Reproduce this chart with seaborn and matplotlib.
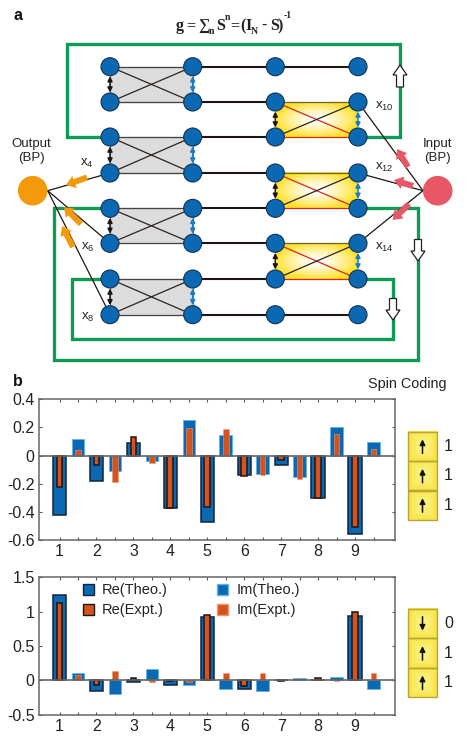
import numpy as np
import pandas as pd
import matplotlib
matplotlib.use("Agg")
import matplotlib.pyplot as plt
import seaborn as sns
from matplotlib.patches import Rectangle, Circle, FancyArrow, Polygon, Patch

sns.set_theme(style="white")
plt.rcParams["font.family"] = ["Liberation Sans", "DejaVu Sans"]
plt.rcParams["mathtext.fontset"] = "custom"
plt.rcParams["mathtext.rm"] = "Liberation Sans"
plt.rcParams["mathtext.default"] = "regular"

# bar values
slot_labels = ["1", "2", "3", "4", "5", "6", "7", "8", "9"]
top_re_theo = [-0.42, -0.18, 0.09, -0.37, -0.47, -0.135, -0.065, -0.305, -0.56]
top_re_expt = [-0.22, -0.07, 0.135, -0.375, -0.365, -0.145, -0.03, -0.30, -0.51]
top_im_theo = [0.115, -0.11, -0.04, 0.25, 0.145, -0.13, -0.15, 0.20, 0.10]
top_im_expt = [0.04, -0.19, -0.055, 0.195, 0.19, -0.135, -0.165, 0.15, 0.045]
bot_re_theo = [1.24, -0.15, -0.02, -0.07, 0.92, -0.13, 0.01, 0.01, 0.94]
bot_re_expt = [1.13, -0.07, 0.03, -0.01, 0.95, -0.08, -0.015, 0.03, 0.99]
bot_im_theo = [0.10, -0.20, 0.165, -0.07, -0.12, -0.15, 0.04, 0.055, -0.13]
bot_im_expt = [0.08, 0.14, -0.03, -0.03, 0.10, 0.10, 0.01, -0.01, 0.11]

# schematic layout, pixels
col_x = [110, 192.7, 275.3, 358]
row_y = [66.7, 102, 137, 173, 208.3, 243.3, 279, 314.7]
gray_boxes = [(0, 1), (2, 3), (4, 5), (6, 7)]
yellow_boxes = [(1, 2), (3, 4), (5, 6)]
spin_top = ["1", "1", "1"]
spin_bot = ["0", "1", "1"]

BLUE = "#0b69b4"
ORANGE = "#d5531f"
GREEN = "#0f9a55"
W, H = 467, 738


def px_axes(left, right, top, bottom):
    return fig.add_axes([left / W, 1 - bottom / H, (right - left) / W, (bottom - top) / H])


def draw_bars(ax, re_theo, re_expt, im_theo, im_expt):
    slots = list(range(18))
    def one(vals, offset, width, edge, color, lw):
        df = pd.DataFrame({"slot": [offset + 2 * i for i in range(9)], "val": vals})
        sns.barplot(data=df, x="slot", y="val", order=slots, width=width, color=color,
                    saturation=1, edgecolor=edge, linewidth=lw, errorbar=None, ax=ax)
    one(re_theo, 0, 0.72, "#12233a", BLUE, 1.1)
    one(im_theo, 1, 0.68, "#5fb4e6", BLUE, 0.6)
    one(re_expt, 0, 0.31, "#1c1512", ORANGE, 1.1)
    one(im_expt, 1, 0.30, "#ee9a70", ORANGE, 0.4)
    ax.axhline(0, color="#666666", lw=1.2)
    ax.set_xlim(-1.126, 18.16)
    ax.set_xlabel("")
    ax.set_ylabel("")
    ax.set_xticks(slots)
    ax.set_xticklabels([slot_labels[i // 2] if i % 2 == 0 else "" for i in slots])
    ax.tick_params(axis="both", which="both", direction="in", length=2.5, width=0.8, color="#555555",
                   top=True, right=True, bottom=True, left=True, labelsize=11.5, labelcolor="#222222", pad=3)
    for s in ax.spines.values():
        s.set_color("#666666")
        s.set_linewidth(1.1)


fig = plt.figure(figsize=(W / 100, H / 100), dpi=100)

ax1 = px_axes(38.7, 395, 399.3, 540)
draw_bars(ax1, top_re_theo, top_re_expt, top_im_theo, top_im_expt)
ax1.set_ylim(-0.6, 0.4)
ax1.set_yticks([-0.6, -0.4, -0.2, 0, 0.2, 0.4])
ax1.set_yticklabels(["-0.6", "-0.4", "-0.2", "0", "0.2", "0.4"])

ax2 = px_axes(38.7, 395, 577.3, 714.7)
draw_bars(ax2, bot_re_theo, bot_re_expt, bot_im_theo, bot_im_expt)
ax2.set_ylim(-0.5, 1.5)
ax2.set_yticks([-0.5, 0, 0.5, 1, 1.5])
ax2.set_yticklabels(["-0.5", "0", "0.5", "1", "1.5"])
handles = [Patch(facecolor=BLUE, edgecolor="#12233a", label="Re(Theo.)"),
           Patch(facecolor=ORANGE, edgecolor="#1c1512", label="Re(Expt.)"),
           Patch(facecolor=BLUE, edgecolor="#5fb4e6", label="Im(Theo.)"),
           Patch(facecolor=ORANGE, edgecolor="#ee9a70", label="Im(Expt.)")]
ax2.legend(handles=handles, ncol=2, frameon=False, fontsize=10.5, loc="upper left",
           bbox_to_anchor=(0.104, 1.01), handlelength=0.75, handleheight=0.8, handletextpad=0.55,
           columnspacing=3.4, labelspacing=0.42, borderaxespad=0.1, labelcolor="#222222")

# overlay in pixel coordinates for the schematic and spin boxes
ov = fig.add_axes([0, 0, 1, 1], zorder=5)
ov.patch.set_alpha(0)
ov.axis("off")

# yellow gradient
yy, xx = np.mgrid[-1:1:60j, -1:1:90j]
rad = np.clip(np.sqrt(xx ** 2 + yy ** 2) / 1.05, 0, 1) ** 1.5
grad = np.ones((60, 90, 3))
grad[..., 2] = 1 - 0.85 * rad
grad[..., 1] = 1 - 0.12 * rad


def yellow_fill(x0, x1, y0, y1):
    ov.imshow(grad, extent=(x0, x1, y1, y0), aspect="auto", zorder=1, interpolation="bilinear")


# green frames
frames = [([110, 66.5, 66.5, 400, 400, 358], [137, 137, 44, 44, 137, 137]),
          ([110, 54, 54, 418, 418, 358], [208.3, 208.3, 359.5, 359.5, 208.3, 208.3]),
          ([110, 72, 72, 393, 393, 358], [279, 279, 338.7, 338.7, 279, 279])]
for fx, fy in frames:
    ov.plot(fx, fy, color=GREEN, lw=2.4, solid_joinstyle="miter", zorder=2)

for top, bot in gray_boxes:
    x0, x1 = col_x[0], col_x[1]
    y0, y1 = row_y[top], row_y[bot]
    ov.add_patch(Rectangle((x0, y0), x1 - x0, y1 - y0, fc="#dcdcdc", ec="#777777", lw=0.8, zorder=1))
    ov.plot([x0, x1], [y0, y1], color="#2a2320", lw=0.9, zorder=3)
    ov.plot([x0, x1], [y1, y0], color="#2a2320", lw=0.9, zorder=3)
    ov.plot([x0, x1], [y1, y1], color="#444444", lw=0.9, zorder=3)
    ov.plot([x0, x1], [y0, y0], color="#444444", lw=0.9, zorder=3)

for top, bot in yellow_boxes:
    x0, x1 = col_x[2], col_x[3]
    y0, y1 = row_y[top], row_y[bot]
    yellow_fill(x0, x1, y0, y1)
    ov.plot([x0, x1], [y0, y0], color="#6b6030", lw=0.9, zorder=3)
    ov.plot([x0, x1], [y1, y1], color="#d8281c", lw=0.9, zorder=3)
    ov.plot([x0, x1], [y0, y1], color="#d8281c", lw=0.9, zorder=3)
    ov.plot([x0, x1], [y1, y0], color="#2a2320", lw=0.9, zorder=3)

# horizontal waveguides
for r, y in enumerate(row_y):
    end = col_x[3] if r in (0, 7) else col_x[2]
    ov.plot([col_x[1], end], [y, y], color="#1c1512", lw=1.5, zorder=3)


def double_arrow(x, y0, y1, color):
    ov.annotate("", xy=(x, y0), xytext=(x, y1), zorder=4,
                arrowprops=dict(arrowstyle="<|-|>", color=color, lw=1.1, mutation_scale=7,
                                shrinkA=0, shrinkB=0))


for top, bot in gray_boxes:
    double_arrow(col_x[0], row_y[top] + 9.5, row_y[bot] - 9.5, "#1c1512")
    double_arrow(col_x[1], row_y[top] + 9.5, row_y[bot] - 9.5, "#1a7cc4")
for top, bot in yellow_boxes:
    double_arrow(col_x[2], row_y[top] + 9.5, row_y[bot] - 9.5, "#1c1512")
    double_arrow(col_x[3], row_y[top] + 9.5, row_y[bot] - 9.5, "#1a7cc4")

# input and output couplers
out_pt = (47.7, 190.7)
in_pt = (423, 190.7)
for r in (3, 5, 7):
    ov.plot([col_x[0], out_pt[0]], [row_y[r], out_pt[1]], color="#1c1512", lw=0.9, zorder=3)
for r in (1, 3, 5):
    ov.plot([col_x[3], in_pt[0]], [row_y[r], in_pt[1]], color="#1c1512", lw=0.9, zorder=3)

for y in row_y:
    for x in col_x:
        ov.add_patch(Circle((x, y), 9, fc=BLUE, ec="#13324f", lw=0.8, zorder=5))
ov.add_patch(Circle((32.7, 190.7), 14.8, fc="#f29a0b", ec="none", zorder=5))
ov.add_patch(Circle((437.7, 190.7), 14.8, fc="#e85766", ec="none", zorder=5))


def fat_arrow(tail, tip, color):
    dx, dy = tip[0] - tail[0], tip[1] - tail[1]
    ov.add_patch(FancyArrow(tail[0], tail[1], dx, dy, width=6, head_width=13, head_length=9,
                            length_includes_head=True, fc=color, ec="none", zorder=4))


for tail, tip in [((87, 177.5), (66, 185)), ((81, 224), (64, 207)), ((73, 247), (62, 226))]:
    fat_arrow(tail, tip, "#f29a0b")
for tail, tip in [((408, 167), (397, 149)), ((413, 186), (394, 180)), ((409, 204), (392.7, 220))]:
    fat_arrow(tail, tip, "#e85766")


def hollow_arrow(x, y0, y1):
    # y0 tail, y1 tip
    s = 1 if y1 > y0 else -1
    hl = 10
    pts = [(x - 3.5, y0), (x + 3.5, y0), (x + 3.5, y1 - s * hl), (x + 7, y1 - s * hl), (x, y1),
           (x - 7, y1 - s * hl), (x - 3.5, y1 - s * hl)]
    ov.add_patch(Polygon(pts, closed=True, fc="white", ec="#222222", lw=0.9, zorder=4))


hollow_arrow(400, 87, 65)
hollow_arrow(418, 239.5, 261)
hollow_arrow(393, 298.5, 320)

# texts
for txt, x, y in [("x$_{4}$", 87, 163), ("x$_{6}$", 88, 247), ("x$_{8}$", 88, 317),
                  ("x$_{10}$", 384, 106), ("x$_{12}$", 384, 167), ("x$_{14}$", 384, 247)]:
    ov.text(x, y, txt, fontsize=9.5, ha="center", va="center", color="#222222", zorder=6)
ov.text(31, 151, "Output\n(BP)", fontsize=9.5, ha="center", va="center", color="#222222", linespacing=1.15)
ov.text(437, 151, "Input\n(BP)", fontsize=9.5, ha="center", va="center", color="#222222", linespacing=1.15)
ov.text(13, 15, "a", fontsize=11.5, fontweight="bold", ha="left", va="center", color="#111111")
ov.text(13, 381, "b", fontsize=11.5, fontweight="bold", ha="left", va="center", color="#111111")
ov.text(407, 384, "Spin Coding", fontsize=10.4, ha="center", va="center", color="#222222")
serif = dict(family="Liberation Serif", fontweight="bold", color="#222222", va="baseline", ha="left")
title_parts = [(176, 30, "g", 11.5), (186, 30, "=", 11.5), (198.5, 30, "\u2211", 11.5), (209, 34, "n", 7),
               (216, 30, "S", 11.5), (225, 20, "n", 7), (230, 30, "=", 11.5), (240.5, 30, "(", 11.5),
               (245, 30, "I", 11.5), (251, 34, "N", 7), (261, 30, "-", 11.5), (270, 30, "S", 11.5),
               (278, 30, ")", 11.5), (284, 18, "-1", 7)]
for x, y, t, fs in title_parts:
    ov.text(x, y, t, fontsize=fs, **serif)


def spin_box(top, codes):
    x0, x1 = 407.7, 437.3
    h = 29.4
    for i, code in enumerate(codes):
        y0 = top + i * h
        yellow = np.ones((40, 60, 3))
        xx2 = np.abs(np.linspace(-1, 1, 60))[None, :]
        yy2 = np.abs(np.linspace(-1, 1, 40))[:, None]
        r2 = np.clip(np.maximum(xx2, yy2 * 0.9), 0, 1) ** 2
        yellow[..., 0] = 0.98
        yellow[..., 1] = 0.95 - 0.08 * r2
        yellow[..., 2] = 0.5 - 0.32 * r2
        ov.imshow(yellow, extent=(x0, x1, y0 + h, y0), aspect="auto", zorder=1)
        ov.add_patch(Rectangle((x0, y0), x1 - x0, h, fc="none", ec="#b5a53c", lw=1.0, zorder=2))
        xm = (x0 + x1) / 2
        ym = y0 + h / 2
        a, b = (ym - 7, ym + 7) if code == "1" else (ym + 7, ym - 7)
        ov.annotate("", xy=(xm, a), xytext=(xm, b), zorder=3,
                    arrowprops=dict(arrowstyle="-|>", color="#111111", lw=1.1, mutation_scale=8,
                                    shrinkA=0, shrinkB=0))
        ov.text(448.5, ym, code, fontsize=11.5, ha="center", va="center", color="#222222")


spin_box(431.7, spin_top)
spin_box(609, spin_bot)

ov.set_xlim(0, W)
ov.set_ylim(H, 0)

fig.savefig("out.png", dpi=100)
